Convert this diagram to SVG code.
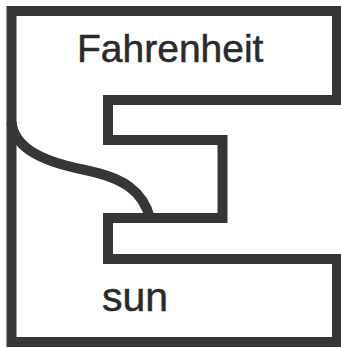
<svg xmlns="http://www.w3.org/2000/svg" width="341" height="348" viewBox="0 0 341 348">
<style>
.ln{fill:none;stroke:#363636;stroke-width:10;stroke-linejoin:miter}
.t{font-family:"Liberation Sans",Arial,sans-serif;fill:#2a2a2a;stroke:#2a2a2a;stroke-width:0.5}
</style>
<rect width="341" height="348" fill="#ffffff"/>
<g id="frame">
<polygon class="ln" points="11.5,11 337,11 337,100 108,100 108,140 222.5,140 222.5,218 108,218 108,259 337,259 337,342 11.5,342"/>
</g>
<g id="curve">
<path class="ln" stroke-width="9" d="M 11.5 122 C 14 145, 35 160, 85 170 C 125 178, 143 192, 150 218"/>
</g>
<g id="labels">
<text class="t" x="77" y="62" font-size="39">Fahrenheit</text>
<text class="t" x="102" y="311" font-size="41">sun</text>
</g>
</svg>
